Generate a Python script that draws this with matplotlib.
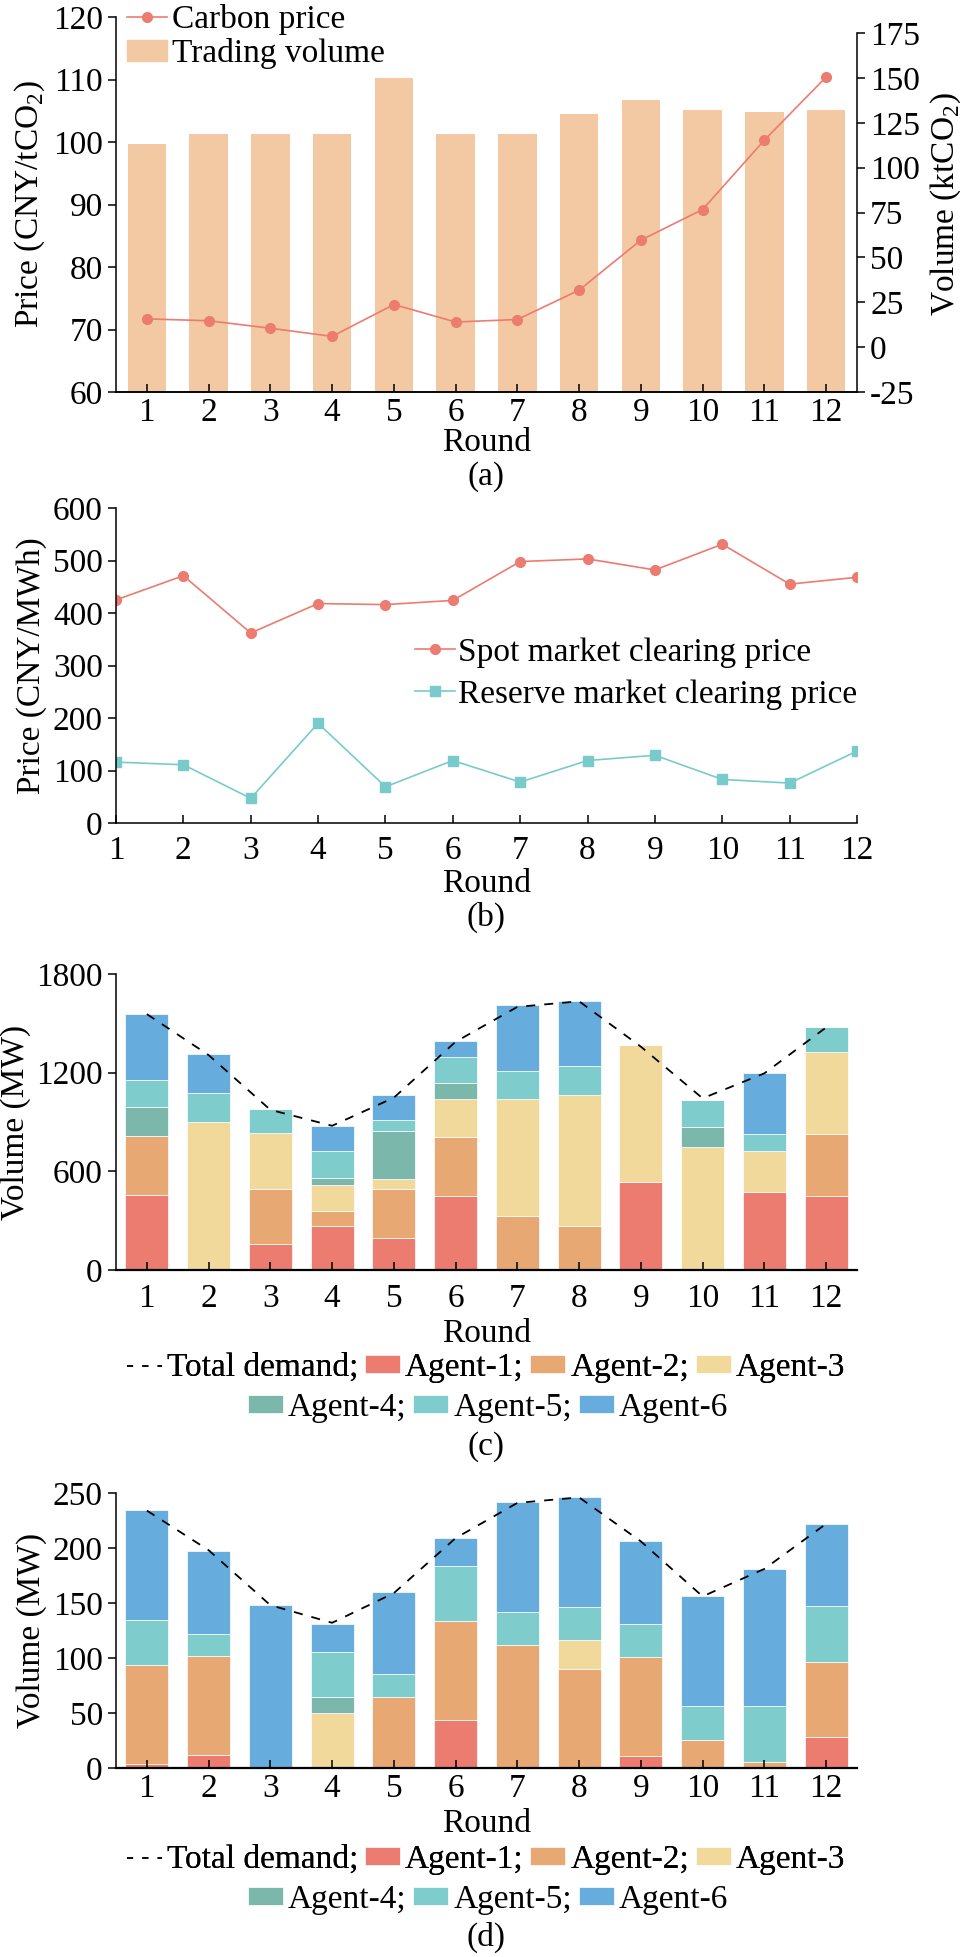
import numpy as np
import matplotlib
matplotlib.use('Agg')
from matplotlib import pyplot as plt
from matplotlib.patches import Patch
from matplotlib.lines import Line2D

plt.rcParams['font.family'] = ['Liberation Serif', 'DejaVu Serif']
plt.rcParams['mathtext.fontset'] = 'custom'
plt.rcParams['mathtext.rm'] = 'Liberation Serif'
plt.rcParams['font.size'] = 24
plt.rcParams['axes.linewidth'] = 1.1
plt.rcParams['axes.unicode_minus'] = False

rounds = np.arange(1, 13)

# (a) carbon market
carbon_price = [71.7, 71.4, 70.2, 68.9, 74.0, 71.2, 71.6, 76.3, 84.3, 89.2, 100.3, 110.4]
trading_volume = [113, 119, 119, 119, 150, 119, 119, 130, 138, 132, 131, 132]

# (b) clearing prices
spot_price = [425, 471, 362, 418, 416, 424, 498, 503, 482, 531, 455, 468]
reserve_price = [116, 111, 47, 190, 69, 119, 78, 119, 129, 83, 76, 137]

# (c) energy volume per agent
agents = ['Agent-1', 'Agent-2', 'Agent-3', 'Agent-4', 'Agent-5', 'Agent-6']
energy_a1 = [455, 0, 160, 267, 196, 448, 0, 0, 535, 0, 477, 448]
energy_a2 = [361, 0, 335, 89, 299, 358, 331, 267, 0, 0, 0, 380]
energy_a3 = [0, 897, 337, 159, 57, 234, 709, 798, 831, 745, 248, 497]
energy_a4 = [178, 0, 0, 47, 296, 99, 0, 0, 0, 122, 0, 0]
energy_a5 = [162, 178, 150, 161, 65, 156, 172, 175, 0, 167, 103, 152]
energy_a6 = [400, 236, 0, 150, 150, 97, 398, 394, 0, 0, 372, 0]
energy_demand = [1556, 1307, 974, 877, 1048, 1388, 1600, 1634, 1358, 1044, 1196, 1475]

# (d) reserve volume per agent
reserve_a1 = [3.3, 11.5, 0, 0, 0, 43.7, 0, 0, 10.6, 0, 0, 28.6]
reserve_a2 = [90.3, 90.3, 0, 0, 64.7, 90.3, 111.8, 89.6, 89.9, 25.8, 5.5, 68]
reserve_a3 = [0, 0, 0, 50.1, 0, 0, 0, 26.4, 0, 0, 0, 0]
reserve_a4 = [0, 0, 0, 14.6, 0, 0, 0, 0, 0, 0, 0, 0]
reserve_a5 = [41, 20, 0, 40.7, 20.7, 50, 30.1, 30.4, 30.4, 30.4, 50.7, 50.7]
reserve_a6 = [99.6, 75.3, 147.9, 25.5, 74.7, 25, 100.2, 100, 75.4, 99.9, 124.8, 74.7]
reserve_demand = [234, 198, 148, 132, 159, 209, 241, 246, 206, 156, 181, 222]

red = '#EC7B70'
agent_colors = ['#EC7B70', '#E8A874', '#F1D99B', '#7BB8AB', '#7ECDCC', '#66ADDE']
teal = '#79CBCB'
peach = '#F2C9A2'

W, H = 960, 1957
fig = plt.figure(figsize=(W / 100, H / 100), dpi=100)


def rect(top, bottom, left=116, right=857):
    return [left / W, 1 - bottom / H, (right - left) / W, (bottom - top) / H]


def fy(py):
    return 1 - py / H


def style(ax, xpad):
    ax.tick_params(axis='x', direction='in', length=6, width=1.1, pad=xpad)
    ax.tick_params(axis='y', direction='out', length=6, width=1.1)
    ax.spines['top'].set_visible(False)
    ax.spines['right'].set_visible(False)


# ---- (a)
ax = fig.add_axes(rect(17, 392))
ax2 = ax.twinx()
ax2.bar(rounds, np.array(trading_volume) + 25, bottom=-25, width=0.62, color=peach)
ax.plot(rounds, carbon_price, '-o', color=red, lw=1.2, ms=7)
ax.set_zorder(ax2.get_zorder() + 1)
ax.patch.set_visible(False)
ax.set_ylim(60, 120)
ax.set_yticks(np.arange(60, 121, 10))
ax.set_xlim(0.5, 12.5)
ax2.set_ylim(-25, 184)
ax2.set_yticks(np.arange(-25, 176, 25))
ax2.spines['right'].set_bounds(-25, 175)
ax2.spines['top'].set_visible(False)
ax2.spines['left'].set_visible(False)
ax2.tick_params(axis='y', direction='out', length=6, width=1.1)
style(ax, 4)
ax.set_xticks(rounds)
ax.set_ylabel('Price (CNY/tCO$_2$)', labelpad=4)
ax2.set_ylabel('Volume (ktCO$_2$)', labelpad=6)
ax.set_xlabel('Round', labelpad=-0.5)
ax.legend([Line2D([], [], color=red, marker='o', lw=1.2, ms=7), Patch(color=peach)],
          ['Carbon price', 'Trading volume'], frameon=False, loc='upper left',
          bbox_to_anchor=(127 / W, fy(4)), bbox_transform=fig.transFigure,
          borderpad=0, borderaxespad=0, handlelength=1.2, handletextpad=0.15,
          labelspacing=0.1, handleheight=0.6)
fig.text(486 / W, fy(477), '(a)', ha='center', va='center')

# ---- (b)
ax = fig.add_axes(rect(508, 823))
ax.plot(rounds, spot_price, '-o', color=red, lw=1.2, ms=7, label='Spot market clearing price')
ax.plot(rounds, reserve_price, '-s', color=teal, lw=1.2, ms=7, label='Reserve market clearing price')
ax.set_xlim(1, 12)
ax.set_ylim(0, 600)
ax.set_xticks(rounds)
ax.set_yticks(np.arange(0, 601, 100))
style(ax, 9)
ax.set_ylabel('Price (CNY/MWh)', labelpad=4)
ax.set_xlabel('Round', labelpad=1.5)
ax.legend(frameon=False, loc='upper left', bbox_to_anchor=(415 / W, fy(637)),
          bbox_transform=fig.transFigure, borderpad=0, borderaxespad=0,
          handlelength=1.2, handletextpad=0.1, labelspacing=0.35)
fig.text(486 / W, fy(917), '(b)', ha='center', va='center')


# ---- (c) and (d)
def stacked(top, bottom, series, demand, ymax, yticks, xpad, lpad, leg_y, tag, tag_y):
    ax = fig.add_axes(rect(top, bottom))
    base = np.zeros(len(rounds))
    for vals, c in zip(series, agent_colors):
        ax.bar(rounds, vals, bottom=base, width=0.7, color=c, edgecolor='white', linewidth=0.5)
        base += np.array(vals)
    ax.plot(rounds, demand, color='black', lw=1.3, dashes=(5, 5))
    ax.set_xlim(0.5, 12.5)
    ax.set_ylim(0, ymax)
    ax.set_xticks(rounds)
    ax.set_yticks(yticks)
    style(ax, xpad)
    ax.spines['bottom'].set_linewidth(1.6)
    ax.set_ylabel('Volume (MW)', labelpad=4)
    ax.set_xlabel('Round', labelpad=lpad)
    patches = [Patch(facecolor=c, edgecolor='white', linewidth=0.5) for c in agent_colors]
    dash = Line2D([], [], color='black', lw=1.1, dashes=(4, 6))
    kw = dict(frameon=False, loc='center', bbox_transform=fig.transFigure, borderpad=0,
              borderaxespad=0, handlelength=1.05, handletextpad=0.15, columnspacing=0.2,
              handleheight=0.45)
    leg1 = fig.legend([dash] + patches[:3], ['Total demand;', 'Agent-1;', 'Agent-2;', 'Agent-3'],
                      ncol=4, bbox_to_anchor=(486 / W, fy(leg_y)), **kw)
    fig.legend(patches[3:], ['Agent-4;', 'Agent-5;', 'Agent-6'],
               ncol=3, bbox_to_anchor=(488 / W, fy(leg_y + 40)), **kw)
    fig.add_artist(leg1)
    fig.text(486 / W, fy(tag_y), tag, ha='center', va='center')
    return ax


stacked(974, 1270, [energy_a1, energy_a2, energy_a3, energy_a4, energy_a5, energy_a6],
        energy_demand, 1800, [0, 600, 1200, 1800], 10, 3, 1368, '(c)', 1447)
stacked(1493, 1768, [reserve_a1, reserve_a2, reserve_a3, reserve_a4, reserve_a5, reserve_a6],
        reserve_demand, 250, np.arange(0, 251, 50), 4, 3, 1860, '(d)', 1937)

fig.savefig('out.png', dpi=100)
